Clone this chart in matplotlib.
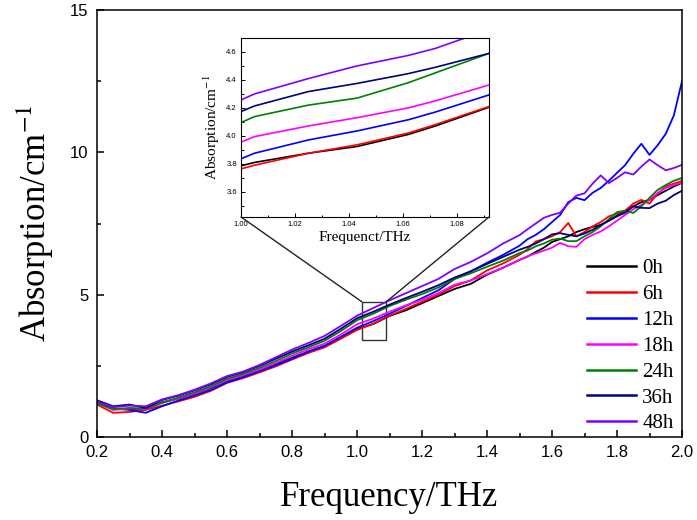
import matplotlib
matplotlib.use('Agg')
from matplotlib import pyplot as plt
from matplotlib.patches import Rectangle, ConnectionPatch
from matplotlib.ticker import MultipleLocator, FormatStrFormatter

plt.rcParams['mathtext.fontset'] = 'stix'

# frequency grid (THz), finer above 1.5 where the curves get noisy
freq = [0.20, 0.25, 0.30, 0.35, 0.40, 0.45, 0.50, 0.55, 0.60, 0.65, 0.70, 0.75,
        0.80, 0.85, 0.90, 0.95, 1.00, 1.05, 1.10, 1.15, 1.20, 1.25, 1.30, 1.35,
        1.40, 1.45, 1.50, 1.525, 1.55, 1.575, 1.60, 1.625, 1.65, 1.675, 1.70,
        1.725, 1.75, 1.775, 1.80, 1.825, 1.85, 1.875, 1.90, 1.925, 1.95, 1.975, 2.00]

abs_0h = [1.22, 1.00, 0.98, 0.97, 1.22, 1.35, 1.52, 1.72, 1.97, 2.15, 2.35, 2.55,
          2.78, 3.00, 3.20, 3.50, 3.79, 3.97, 4.25, 4.45, 4.70, 4.95, 5.20, 5.38,
          5.70, 5.95, 6.22, 6.34, 6.50, 6.65, 6.85, 6.95, 7.05, 7.20, 7.30,
          7.38, 7.45, 7.60, 7.78, 7.95, 8.10, 8.25, 8.33, 8.50, 8.65, 8.80, 8.93]
abs_6h = [1.14, 0.85, 0.88, 0.95, 1.10, 1.25, 1.41, 1.62, 1.90, 2.07, 2.27, 2.48,
          2.72, 2.95, 3.15, 3.45, 3.76, 3.98, 4.26, 4.50, 4.75, 5.00, 5.30, 5.50,
          5.85, 6.10, 6.40, 6.60, 6.87, 6.95, 7.05, 7.20, 7.52, 7.05, 7.20,
          7.40, 7.55, 7.75, 7.85, 7.95, 8.20, 8.33, 8.20, 8.55, 8.80, 8.90, 9.00]
abs_12h = [1.20, 1.00, 0.95, 0.85, 1.08, 1.28, 1.46, 1.65, 1.92, 2.10, 2.31, 2.52,
           2.75, 3.00, 3.20, 3.52, 3.84, 4.07, 4.33, 4.60, 4.88, 5.15, 5.55, 5.82,
           6.12, 6.40, 6.72, 6.95, 7.10, 7.30, 7.55, 7.80, 8.25, 8.40, 8.32,
           8.58, 8.75, 9.00, 9.28, 9.55, 9.95, 10.30, 9.91, 10.25, 10.65, 11.30, 12.50]
abs_18h = [1.20, 0.95, 1.00, 0.98, 1.20, 1.35, 1.53, 1.74, 1.99, 2.17, 2.37, 2.60,
           2.85, 3.08, 3.28, 3.60, 3.96, 4.16, 4.40, 4.62, 4.82, 5.05, 5.35, 5.50,
           5.72, 5.95, 6.22, 6.35, 6.45, 6.55, 6.65, 6.82, 6.70, 6.68, 6.95,
           7.10, 7.22, 7.40, 7.60, 7.80, 8.00, 8.15, 8.33, 8.57, 8.75, 8.85, 8.94]
abs_24h = [1.18, 0.98, 1.02, 1.00, 1.20, 1.38, 1.57, 1.78, 2.04, 2.22, 2.43, 2.67,
           2.93, 3.15, 3.38, 3.72, 4.10, 4.33, 4.60, 4.82, 5.02, 5.25, 5.55, 5.75,
           5.98, 6.20, 6.46, 6.55, 6.70, 6.80, 6.93, 6.97, 6.88, 6.88, 7.05,
           7.20, 7.40, 7.65, 7.90, 7.95, 7.87, 8.10, 8.40, 8.68, 8.85, 9.00, 9.10]
abs_36h = [1.29, 1.08, 1.14, 1.02, 1.30, 1.45, 1.64, 1.85, 2.11, 2.28, 2.50, 2.75,
           3.00, 3.22, 3.45, 3.80, 4.17, 4.40, 4.65, 4.88, 5.10, 5.33, 5.60, 5.82,
           6.08, 6.33, 6.58, 6.68, 6.80, 6.95, 7.12, 7.16, 7.10, 7.05, 7.15,
           7.28, 7.45, 7.60, 7.75, 7.88, 8.10, 8.05, 8.04, 8.20, 8.30, 8.50, 8.65]
abs_48h = [1.25, 1.05, 1.10, 1.08, 1.32, 1.47, 1.66, 1.88, 2.14, 2.30, 2.53, 2.80,
           3.07, 3.30, 3.55, 3.90, 4.26, 4.53, 4.80, 5.05, 5.30, 5.55, 5.90, 6.15,
           6.45, 6.80, 7.09, 7.30, 7.50, 7.70, 7.80, 7.88, 8.20, 8.48, 8.56,
           8.90, 9.19, 8.92, 9.10, 9.30, 9.22, 9.50, 9.75, 9.55, 9.37, 9.45, 9.56]

# zoomed data for the inset
inset_freq = [1.000, 1.005, 1.025, 1.043, 1.062, 1.072, 1.092]
inset_0h = [3.786, 3.810, 3.876, 3.924, 4.010, 4.070, 4.205]
inset_6h = [3.764, 3.790, 3.876, 3.936, 4.020, 4.080, 4.210]
inset_12h = [3.836, 3.876, 3.971, 4.035, 4.115, 4.170, 4.293]
inset_18h = [3.955, 3.995, 4.071, 4.130, 4.200, 4.250, 4.364]
inset_24h = [4.095, 4.138, 4.220, 4.270, 4.380, 4.450, 4.590]
inset_36h = [4.174, 4.214, 4.317, 4.375, 4.445, 4.490, 4.590]
inset_48h = [4.257, 4.300, 4.410, 4.500, 4.575, 4.625, 4.760]

labels = ['0h', '6h', '12h', '18h', '24h', '36h', '48h']
colors = ['black', '#ff0000', '#0000ff', '#ff00ff', '#008000', '#000080', '#8000ff']
main_series = [abs_0h, abs_6h, abs_12h, abs_18h, abs_24h, abs_36h, abs_48h]
inset_series = [inset_0h, inset_6h, inset_12h, inset_18h, inset_24h, inset_36h, inset_48h]

fig = plt.figure(figsize=(6.97, 5.2), dpi=100)
ax = fig.add_axes([97/697, 1 - 437/520, 585/697, 427/520])

for y, c, lab in zip(main_series, colors, labels):
    ax.plot(freq, y, color=c, lw=1.3, label=lab)

ax.set_xlim(0.2, 2.0)
ax.set_ylim(0, 15)
ax.xaxis.set_major_locator(MultipleLocator(0.2))
ax.xaxis.set_minor_locator(MultipleLocator(0.1))
ax.xaxis.set_major_formatter(FormatStrFormatter('%.1f'))
ax.yaxis.set_major_locator(MultipleLocator(5))
ax.yaxis.set_minor_locator(MultipleLocator(2.5))
ax.tick_params(which='both', direction='in', top=False, right=False, labelsize=12, pad=6, width=1.1)
ax.tick_params(which='major', length=5)
ax.tick_params(which='minor', length=3)
for lbl in ax.get_xticklabels() + ax.get_yticklabels():
    lbl.set_family('Liberation Sans')
for sp in ax.spines.values():
    sp.set_linewidth(1.1)

ax.set_xlabel('Frequency/THz', fontsize=25, family='Liberation Serif', labelpad=15)
ax.set_ylabel('Absorption/cm$^{-1}$', fontsize=25, family='Liberation Serif', labelpad=10)

leg = ax.legend(loc='lower right', bbox_to_anchor=(1.007, -0.021), frameon=False,
                prop={'family': 'Liberation Serif', 'size': 15},
                handlelength=2.35, handletextpad=0.3, labelspacing=0.3, borderaxespad=0.2)
for h in leg.get_lines():
    h.set_linewidth(1.8)

# zoom box on the main plot
ax.add_patch(Rectangle((1.015, 3.39), 0.075, 1.36, fill=False, ec='#333333', lw=1))

# inset
axin = fig.add_axes([241/697, 1 - 217/520, 248/697, 179/520])
for y, c in zip(inset_series, colors):
    axin.plot(inset_freq, y, color=c, lw=1.2)
axin.set_xlim(1.0, 1.092)
axin.set_ylim(3.42, 4.7)
axin.xaxis.set_major_locator(MultipleLocator(0.02))
axin.xaxis.set_minor_locator(MultipleLocator(0.01))
axin.xaxis.set_major_formatter(FormatStrFormatter('%.2f'))
axin.yaxis.set_major_locator(MultipleLocator(0.2))
axin.yaxis.set_minor_locator(MultipleLocator(0.1))
axin.yaxis.set_major_formatter(FormatStrFormatter('%.1f'))
axin.tick_params(which='both', direction='in', top=False, right=False, labelsize=5.5, pad=3, width=0.7)
axin.tick_params(which='major', length=3)
axin.tick_params(which='minor', length=1.8)
for lbl in axin.get_xticklabels() + axin.get_yticklabels():
    lbl.set_family('Liberation Sans')
for sp in axin.spines.values():
    sp.set_linewidth(0.8)
axin.set_xlabel('Frequenct/THz', fontsize=11, family='Liberation Serif', labelpad=2)
axin.set_ylabel('Absorption/cm$^{-1}$', fontsize=11, family='Liberation Serif', labelpad=3)

# lines from the inset corners to the zoom box
for ax_corner, data_corner in [((0, 0), (1.015, 4.75)), ((1, 0), (1.09, 4.75))]:
    con = ConnectionPatch(xyA=ax_corner, coordsA=axin.transAxes,
                          xyB=data_corner, coordsB=ax.transData,
                          color='#222222', lw=1)
    fig.add_artist(con)

fig.savefig('out.png', dpi=100)
